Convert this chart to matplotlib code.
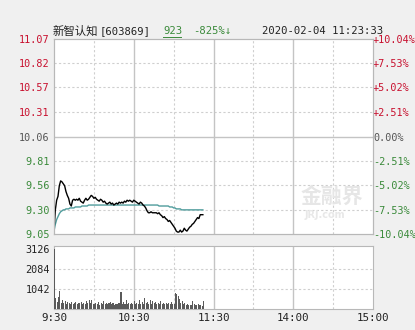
import matplotlib
matplotlib.use("Agg")
import matplotlib.pyplot as plt

# ---------------- data ----------------
stock_name = "新智认知"
stock_code = "[603869]"
last_price_txt = "923"
change_txt = "-825%↓"
timestamp_txt = "2020-02-04 11:23:33"

prev_close = 10.06
price_ticks = [11.07, 10.82, 10.57, 10.31, 10.06, 9.81, 9.56, 9.30, 9.05]
price_labels = ["11.07", "10.82", "10.57", "10.31", "10.06", "9.81", "9.56", "9.30", "9.05"]
pct_labels = ["+10.04%", "+7.53%", "+5.02%", "+2.51%", "0.00%", "-2.51%", "-5.02%", "-7.53%", "-10.04%"]
vol_ticks = [3126, 2084, 1042]
vol_labels = ["3126", "2084", "1042"]
time_ticks = [0, 60, 120, 180, 240]
time_labels = ["9:30", "10:30", "11:30", "14:00", "15:00"]

price = [9.08, 9.30, 9.40, 9.44, 9.55, 9.60, 9.59, 9.57, 9.55, 9.49,
         9.45, 9.42, 9.36, 9.34, 9.40, 9.41, 9.40, 9.41, 9.40, 9.42,
         9.39, 9.38, 9.37, 9.40, 9.42, 9.40, 9.41, 9.43, 9.45, 9.44,
         9.42, 9.43, 9.41, 9.40, 9.39, 9.41, 9.40, 9.38, 9.39, 9.37,
         9.36, 9.37, 9.38, 9.36, 9.37, 9.35, 9.36, 9.37, 9.36, 9.38,
         9.37, 9.38, 9.37, 9.39, 9.38, 9.40, 9.39, 9.40, 9.39, 9.38,
         9.40, 9.39, 9.38, 9.37, 9.36, 9.38, 9.37, 9.35, 9.34, 9.32,
         9.29, 9.27, 9.27, 9.28, 9.27, 9.27, 9.27, 9.27, 9.26, 9.27,
         9.25, 9.24, 9.22, 9.23, 9.21, 9.20, 9.18, 9.19, 9.17, 9.15,
         9.13, 9.11, 9.08, 9.07, 9.07, 9.09, 9.07, 9.08, 9.11, 9.09,
         9.08, 9.10, 9.12, 9.13, 9.15, 9.16, 9.18, 9.20, 9.22, 9.21,
         9.25, 9.25, 9.25]

avg_price = [9.08, 9.15, 9.20, 9.23, 9.26, 9.28, 9.29, 9.30, 9.30, 9.31,
             9.31, 9.31, 9.32, 9.32, 9.32, 9.32, 9.33, 9.33, 9.33, 9.33,
             9.33, 9.34, 9.34, 9.34, 9.34, 9.34, 9.35, 9.35, 9.35, 9.35,
             9.35, 9.35, 9.35, 9.35, 9.35, 9.35, 9.35, 9.35, 9.35, 9.35,
             9.35, 9.35, 9.35, 9.35, 9.35, 9.35, 9.35, 9.35, 9.35, 9.35,
             9.35, 9.35, 9.35, 9.35, 9.35, 9.35, 9.35, 9.35, 9.35, 9.35,
             9.35, 9.35, 9.35, 9.35, 9.35, 9.35, 9.35, 9.35, 9.35, 9.35,
             9.35, 9.35, 9.35, 9.35, 9.35, 9.35, 9.35, 9.35, 9.35, 9.34,
             9.34, 9.34, 9.34, 9.34, 9.34, 9.34, 9.34, 9.33, 9.33, 9.33,
             9.32, 9.32, 9.31, 9.31, 9.31, 9.31, 9.30, 9.30, 9.30, 9.30,
             9.30, 9.30, 9.30, 9.30, 9.30, 9.30, 9.30, 9.30, 9.30, 9.30,
             9.30, 9.30, 9.30]

volume = [3126, 580, 390, 620, 950, 330, 470, 300, 420, 250,
          350, 300, 280, 340, 260, 300, 380, 250, 330, 290,
          360, 270, 310, 260, 420, 300, 480, 330, 450, 280,
          250, 320, 260, 380, 230, 300, 250, 430, 270, 330,
          240, 290, 350, 260, 310, 230, 280, 250, 320, 300,
          860, 260, 350, 280, 450, 240, 300, 270, 330, 250,
          420, 260, 310, 280, 460, 250, 380, 280, 560, 300,
          350, 270, 480, 260, 410, 300, 380, 250, 330, 280,
          420, 260, 300, 240, 290, 260, 310, 280, 350, 240,
          280, 830, 760, 700, 540, 300, 420, 260, 300, 220,
          250, 210, 230, 200, 420, 260, 230, 200, 240, 190,
          200, 180, 420]

minutes = list(range(len(price)))

# ---------------- style ----------------
RED = "#c8102e"
GREEN = "#3a8a3a"
GRAY = "#555555"
BG = "#f0f0f0"
GRID_SOLID = "#c4c4c4"
GRID_DASH = "#cfcfcf"
MONO = "DejaVu Sans Mono"
CJK = ["Noto Sans CJK SC", "DejaVu Sans"]

W, H = 415, 330
fig = plt.figure(figsize=(W / 100, H / 100), dpi=100, facecolor=BG)


def px_axes(left, top, right, bottom):
    return fig.add_axes([left / W, 1 - bottom / H, (right - left) / W, (bottom - top) / H])


def label_color(lbl):
    if lbl.startswith("+"):
        return RED
    if lbl.startswith("-"):
        return GREEN
    return GRAY


# ---------------- price panel ----------------
axp = px_axes(54, 39, 373, 234)
axp.set_facecolor("white")
axp.set_xlim(0, 240)
axp.set_ylim(9.05, 11.07)
for t in price_ticks[1:-1]:
    if abs(t - prev_close) < 1e-6:
        axp.axhline(t, color=GRID_SOLID, lw=1.0, zorder=1)
    else:
        axp.axhline(t, color=GRID_DASH, lw=0.8, ls=(0, (2, 2)), zorder=1)
for m in range(30, 240, 30):
    if m % 60 == 0:
        axp.axvline(m, color=GRID_SOLID, lw=1.0, zorder=1)
    else:
        axp.axvline(m, color=GRID_DASH, lw=0.8, ls=(0, (2, 2)), zorder=1)

# watermark
axp.text(0.87, 0.195, "金融界", transform=axp.transAxes, ha="center", va="center",
         fontsize=15, fontweight="bold", family=CJK, color="#e6e6e6", zorder=1)
axp.text(0.85, 0.1, "JRJ.com", transform=axp.transAxes, ha="center", va="center",
         fontsize=7, fontweight="bold", color="#e8e8e8", zorder=1)

axp.plot(minutes, avg_price, color="#4f9c9c", lw=1.0, zorder=3)
axp.plot(minutes, price, color="black", lw=1.0, zorder=4)

axp.set_xticks([])
axp.set_yticks(price_ticks)
price_colors = [RED] * 4 + [GRAY] + [GREEN] * 4
axp.set_yticklabels(price_labels, family=MONO, fontsize=7.3)
for lbl, c in zip(axp.get_yticklabels(), price_colors):
    lbl.set_color(c)
axp.tick_params(axis="y", length=0, pad=3)

axr = axp.twinx()
axr.set_ylim(9.05, 11.07)
axr.set_yticks(price_ticks)
axr.set_yticklabels(pct_labels, family=MONO, fontsize=7.3)
for lbl, txt in zip(axr.get_yticklabels(), pct_labels):
    lbl.set_color(label_color(txt))
axr.tick_params(axis="y", length=0, pad=0)

for ax in (axp, axr):
    for s in ax.spines.values():
        s.set_color("#b8b8b8")
        s.set_linewidth(0.8)

# ---------------- volume panel ----------------
axv = px_axes(54, 246, 373, 309)
axv.set_facecolor("white")
axv.set_xlim(0, 240)
axv.set_ylim(0, 3126 * 63 / 60)
for t in vol_ticks[1:]:
    axv.axhline(t, color=GRID_DASH, lw=0.8, ls=(0, (2, 2)), zorder=1)
for m in range(30, 240, 30):
    if m % 60 == 0:
        axv.axvline(m, color=GRID_SOLID, lw=1.0, zorder=1)
    else:
        axv.axvline(m, color=GRID_DASH, lw=0.8, ls=(0, (2, 2)), zorder=1)
axv.bar(minutes, volume, width=0.8, align="edge", color="#5a5a5a", zorder=3)
axv.set_yticks(vol_ticks)
axv.set_yticklabels(vol_labels, family=MONO, fontsize=7.3, color="#222222")
axv.set_xticks(time_ticks)
axv.set_xticklabels(time_labels, family=MONO, fontsize=7.8, color="#222222")
axv.tick_params(axis="both", length=0, pad=3)
for s in axv.spines.values():
    s.set_color("#b8b8b8")
    s.set_linewidth(0.8)

# ---------------- header ----------------
ty = 1 - 31.5 / H
fig.text(53 / W, ty, stock_name, family=CJK, fontsize=8.2, color="#222222", va="center", ha="left")
fig.text(100 / W, ty, stock_code, family=MONO, fontsize=7.6, color="#222222", va="center", ha="left")
fig.text(163 / W, ty, last_price_txt, family=MONO, fontsize=7.6, color=GREEN, va="center", ha="left")
fig.add_artist(plt.Line2D([163 / W, 181 / W], [1 - 37 / H, 1 - 37 / H], color=GREEN, lw=0.7))
fig.text(193 / W, ty, change_txt, family=["DejaVu Sans Mono", "DejaVu Sans"], fontsize=7.6,
         color=GREEN, va="center", ha="left")
fig.text(262 / W, ty, timestamp_txt, family=MONO, fontsize=7.6, color="#222222", va="center", ha="left")

fig.savefig("out.png", dpi=100, facecolor=BG)
